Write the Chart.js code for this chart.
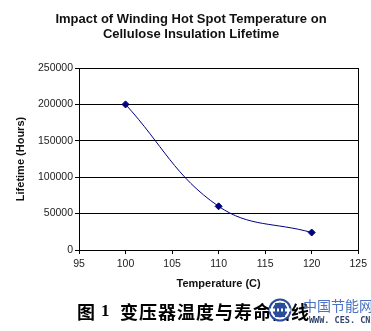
<!DOCTYPE html>
<html>
<head>
<meta charset="utf-8">
<script src="https://cdn.jsdelivr.net/npm/chart.js@4/dist/chart.umd.min.js"></script>
<style>
  html, body { margin: 0; padding: 0; background: #fff; }
</style>
</head>
<body>
<canvas id="chart" width="371" height="331"></canvas>
<script>
// hot spot temperature (C) vs. insulation lifetime (hours)
const temperatures = [100, 110, 120]
const lifetimes = [200000, 60000, 24000]

const xTicks = [95, 100, 105, 110, 115, 120, 125]
const yTicks = [0, 50000, 100000, 150000, 200000, 250000]

const titleLines = ["Impact of Winding Hot Spot Temperature on", "Cellulose Insulation Lifetime"]
const xTitle = "Temperature (C)"
const yTitle = "Lifetime (Hours)"
const captionParts = ["图", "1", "变压器温度与寿命曲线"]
const siteName = "中国节能网"
const siteUrl = "WWW. CES. CN"

const navy = '#000080'
const sans = '"Liberation Sans", Arial, sans-serif'

// title, caption, plot frame and the site mark in the corner
const decorations = {
    id: 'decorations',
    afterDraw(chart) {
        const ctx = chart.ctx
        const area = chart.chartArea
        ctx.save()

        ctx.strokeStyle = '#000'
        ctx.lineWidth = 1
        ctx.beginPath()
        ctx.moveTo(Math.round(area.right) + 0.5, area.top)
        ctx.lineTo(Math.round(area.right) + 0.5, area.bottom)
        ctx.stroke()

        ctx.fillStyle = '#111'
        ctx.textAlign = 'center'
        ctx.textBaseline = 'middle'
        ctx.font = 'bold 13px ' + sans
        titleLines.forEach((line, i) => ctx.fillText(line, 191, 19 + i * 15))

        // figure caption: "图", number, then the description
        ctx.textAlign = 'left'
        ctx.fillStyle = '#000'
        ctx.font = 'bold 18px "Noto Sans CJK SC", sans-serif'
        ctx.fillText(captionParts[0], 77, 312)
        ctx.font = 'bold 17px "Liberation Serif", serif'
        ctx.fillText(captionParts[1], 101, 312)
        ctx.font = 'bold 18px "Noto Sans CJK SC", sans-serif'
        ctx.letterSpacing = '1px'
        ctx.fillText(captionParts[2], 120, 312)
        ctx.letterSpacing = '0px'

        // round logo
        const cx = 280, cy = 310, r = 11.5
        ctx.fillStyle = '#2b4c9c'
        ctx.beginPath()
        ctx.arc(cx, cy, r, 0, Math.PI * 2)
        ctx.fill()
        ctx.strokeStyle = '#fff'
        ctx.lineWidth = 2
        ctx.beginPath()
        ctx.arc(cx, cy, r - 3, 0, Math.PI * 2)
        ctx.stroke()
        ctx.fillStyle = '#fff'
        ctx.fillRect(cx - r + 1, cy - 1.5, 2 * r - 2, 3)
        ctx.fillStyle = '#2b4c9c'
        ;[-4, 0, 4].forEach(dx => ctx.fillRect(cx + dx - 1, cy - 7, 2, 14))

        ctx.fillStyle = '#4a72c2'
        ctx.font = '14px "Noto Sans CJK SC", sans-serif'
        ctx.fillText(siteName, 303, 306)
        ctx.fillStyle = '#34456e'
        ctx.font = 'bold 8.5px "DejaVu Sans Mono", monospace'
        ctx.fillText(siteUrl, 309, 321)

        ctx.restore()
    }
}

const axisFont = { family: sans, size: 10.5 }
const axisTitleFont = { family: sans, size: 11, weight: 'bold' }

new Chart(document.getElementById('chart'), {
    type: 'scatter',
    data: {
        datasets: [{
            label: yTitle,
            data: temperatures.map((t, i) => ({ x: t, y: lifetimes[i] })),
            showLine: true,
            borderColor: navy,
            borderWidth: 1,
            backgroundColor: navy,
            pointBackgroundColor: navy,
            pointBorderColor: navy,
            pointStyle: 'rectRot',
            pointRadius: 3.5,
            tension: 0.4
        }]
    },
    options: {
        responsive: false,
        animation: false,
        layout: { padding: { top: 68, right: 11, bottom: 0, left: 0 } },
        plugins: {
            legend: { display: false },
            tooltip: { enabled: false }
        },
        scales: {
            x: {
                type: 'linear',
                min: xTicks[0],
                max: xTicks[xTicks.length - 1],
                afterBuildTicks: s => { s.ticks = xTicks.map(v => ({ value: v })) },
                afterFit: s => { s.height = 81 },
                ticks: { color: '#222', font: axisFont, padding: 4, maxRotation: 0 },
                grid: { drawOnChartArea: false, color: '#000', tickLength: 4 },
                border: { color: '#000' },
                title: {
                    display: true, text: xTitle, color: '#111', font: axisTitleFont,
                    padding: { top: 0, bottom: 40 }
                }
            },
            y: {
                min: yTicks[0],
                max: yTicks[yTicks.length - 1],
                afterBuildTicks: s => { s.ticks = yTicks.map(v => ({ value: v })) },
                afterFit: s => { s.width = 79 },
                ticks: { color: '#222', font: axisFont, padding: 2, callback: v => String(v) },
                grid: { color: '#000', tickLength: 4 },
                border: { color: '#000' },
                title: {
                    display: true, text: yTitle, color: '#111', font: axisTitleFont,
                    padding: { top: 14, bottom: 0 }
                }
            }
        }
    },
    plugins: [decorations]
})
</script>
</body>
</html>
